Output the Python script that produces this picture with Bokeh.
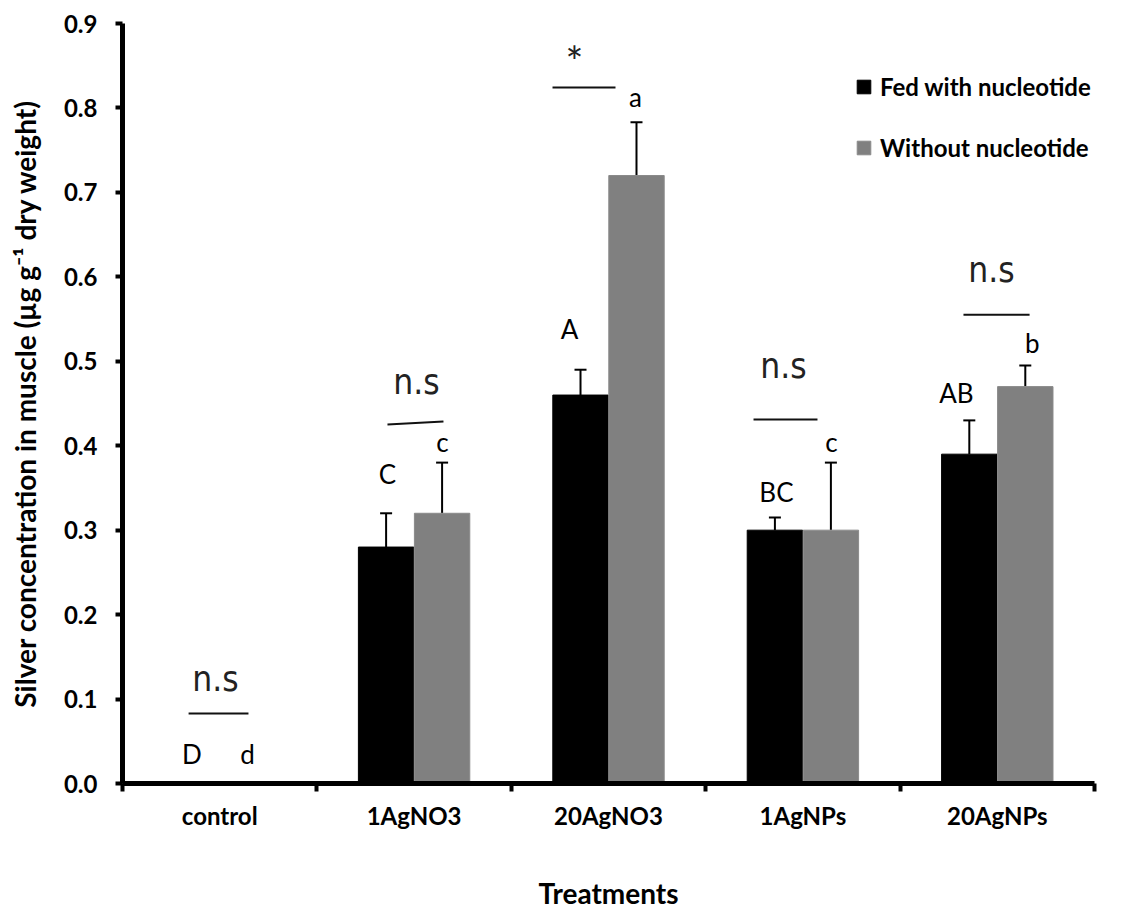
from bokeh.plotting import figure
from bokeh.models import (ColumnDataSource, Range1d, FixedTicker, PrintfTickFormatter,
                          Whisker, TeeHead, Legend, LegendItem)
from bokeh.core.properties import value
from bokeh.embed import file_html
from bokeh.resources import INLINE

# ---------------- data ----------------
categories = ["control", "1AgNO3", "20AgNO3", "1AgNPs", "20AgNPs"]
fed = [0.0, 0.28, 0.46, 0.30, 0.39]
fed_err = [0.0, 0.04, 0.03, 0.015, 0.04]
without = [0.0, 0.32, 0.72, 0.30, 0.47]
without_err = [0.0, 0.06, 0.063, 0.08, 0.025]
y_ticks = [0.0, 0.1, 0.2, 0.3, 0.4, 0.5, 0.6, 0.7, 0.8, 0.9]
series_names = ["Fed with nucleotide", "Without nucleotide"]

# letters of significance (black bar, gray bar) per category
letters_fed = ["D", "C", "A", "BC", "AB"]
letters_without = ["d", "c", "a", "c", "b"]
pair_marks = ["n.s", "n.s", "*", "n.s", "n.s"]

# ---------------- annotation layout (data units) ----------------
letter_fed_xy = [(0.357, 0.035), (1.363, 0.366), (2.30, 0.538), (3.364, 0.345), (4.29, 0.462)]
letter_without_xy = [(0.643, 0.035), (1.646, 0.405), (2.639, 0.813), (3.647, 0.405), (4.68, 0.522)]
mark_xy = [(0.478, 0.124), (1.512, 0.475), (2.325, 0.856), (3.400, 0.495), (4.470, 0.608)]
bracket_lines = [(0.340, 0.0829, 0.648, 0.0829),
                 (1.363, 0.4252, 1.651, 0.4287),
                 (2.212, 0.8243, 2.536, 0.8243),
                 (3.246, 0.431, 3.575, 0.431),
                 (4.326, 0.555, 4.666, 0.555)]

BAR_W = 0.285
OFF = 0.144
SANS = "Lato"
NARROW = "'Liberation Sans Narrow', 'DejaVu Sans Condensed', 'Arial Narrow', Lato"

n = len(categories)
centers = [i + 0.5 for i in range(n)]

src = ColumnDataSource(dict(
    xf=[c - OFF for c in centers], xw=[c + OFF for c in centers],
    fed=fed, without=without,
))

p = figure(width=1128, height=912, output_backend="svg", toolbar_location=None,
           x_range=Range1d(0, 5), y_range=Range1d(0, 0.9),
           min_border_left=122, min_border_right=34, min_border_top=23, min_border_bottom=129)
p.outline_line_color = None
p.xgrid.visible = False
p.ygrid.visible = False
p.background_fill_color = "white"

r_fed = p.vbar(x="xf", top="fed", width=BAR_W, source=src, fill_color="#000000", line_color="#000000")
r_wo = p.vbar(x="xw", top="without", width=BAR_W, source=src, fill_color="#808080", line_color="#8a8a8a")

# error bars (upper only)
for xs_key, vals, errs in (("xf", fed, fed_err), ("xw", without, without_err)):
    xs = src.data[xs_key]
    idx = [i for i in range(n) if errs[i] > 0]
    wsrc = ColumnDataSource(dict(
        x=[xs[i] for i in idx],
        lower=[vals[i] for i in idx],
        upper=[vals[i] + errs[i] for i in idx],
    ))
    w = Whisker(source=wsrc, base="x", upper="upper", lower="lower", dimension="height",
                line_width=2, line_color="black",
                upper_head=TeeHead(size=12, line_width=2, line_color="black"), lower_head=None)
    p.add_layout(w)

# brackets
p.segment(x0=[b[0] for b in bracket_lines], y0=[b[1] for b in bracket_lines],
          x1=[b[2] for b in bracket_lines], y1=[b[3] for b in bracket_lines],
          line_color="#111111", line_width=2)

# significance letters
p.text(x=[xy[0] for xy in letter_fed_xy], y=[xy[1] for xy in letter_fed_xy], text=letters_fed,
       text_font=value(SANS), text_font_size="26px", text_align="center",
       text_baseline="alphabetic", text_color="black")
p.text(x=[xy[0] for xy in letter_without_xy], y=[xy[1] for xy in letter_without_xy], text=letters_without,
       text_font=value(SANS), text_font_size="26px", text_align="center",
       text_baseline="alphabetic", text_color="black")

# n.s / * marks
ns_idx = [i for i in range(n) if pair_marks[i] != "*"]
st_idx = [i for i in range(n) if pair_marks[i] == "*"]
p.text(x=[mark_xy[i][0] for i in ns_idx], y=[mark_xy[i][1] for i in ns_idx],
       text=[pair_marks[i] for i in ns_idx],
       text_font=value(NARROW), text_font_size="35px", text_align="center",
       text_baseline="alphabetic", text_color="#222222")
p.text(x=[mark_xy[i][0] for i in st_idx], y=[mark_xy[i][1] for i in st_idx],
       text=[pair_marks[i] for i in st_idx],
       text_font=value(SANS), text_font_size="42px", text_align="center",
       text_baseline="middle", text_color="#222222")

# ---------------- axes ----------------
xa = p.xaxis[0]
xa.ticker = FixedTicker(ticks=centers, minor_ticks=list(range(n + 1)))
xa.major_label_overrides = {c: name for c, name in zip(centers, categories)}
xa.major_tick_out = 0
xa.major_tick_in = 0
xa.major_tick_line_color = None
xa.minor_tick_out = 8
xa.minor_tick_in = 0
xa.minor_tick_line_width = 4
xa.minor_tick_line_color = "black"
xa.axis_line_width = 5
xa.axis_line_color = "black"
xa.major_label_text_font = SANS
xa.major_label_text_font_style = "bold"
xa.major_label_text_font_size = "24px"
xa.major_label_text_color = "black"
xa.major_label_standoff = 9
xa.axis_label = "Treatments"
xa.axis_label_text_font = SANS
xa.axis_label_text_font_style = "bold"
xa.axis_label_text_font_size = "28px"
xa.axis_label_text_color = "black"
xa.axis_label_standoff = 43

ya = p.yaxis[0]
ya.ticker = FixedTicker(ticks=y_ticks)
ya.formatter = PrintfTickFormatter(format="%.1f")
ya.major_tick_out = 7
ya.major_tick_in = 0
ya.major_tick_line_width = 4
ya.major_tick_line_color = "black"
ya.minor_tick_line_color = None
ya.axis_line_width = 5
ya.axis_line_color = "black"
ya.major_label_text_font = SANS
ya.major_label_text_font_style = "bold"
ya.major_label_text_font_size = "24px"
ya.major_label_text_color = "black"
ya.major_label_standoff = 18
ya.axis_label = "Silver concentration in muscle (\u00b5g g\u207b\u00b9 dry weight)"
ya.axis_label_text_font = SANS
ya.axis_label_text_font_style = "bold"
ya.axis_label_text_font_size = "28px"
ya.axis_label_text_color = "black"
ya.axis_label_standoff = 19

# legend
legend = Legend(items=[LegendItem(label=series_names[0], renderers=[r_fed]),
                       LegendItem(label=series_names[1], renderers=[r_wo])],
                location=(733, 621), orientation="vertical",
                glyph_width=17, glyph_height=17, label_standoff=8, spacing=32,
                padding=0, margin=0, border_line_color=None, background_fill_alpha=0,
                label_text_font=SANS, label_text_font_style="bold", label_text_font_size="24px",
                label_text_color="black")
p.add_layout(legend)

open("out.html", "w").write(file_html(p, INLINE))
